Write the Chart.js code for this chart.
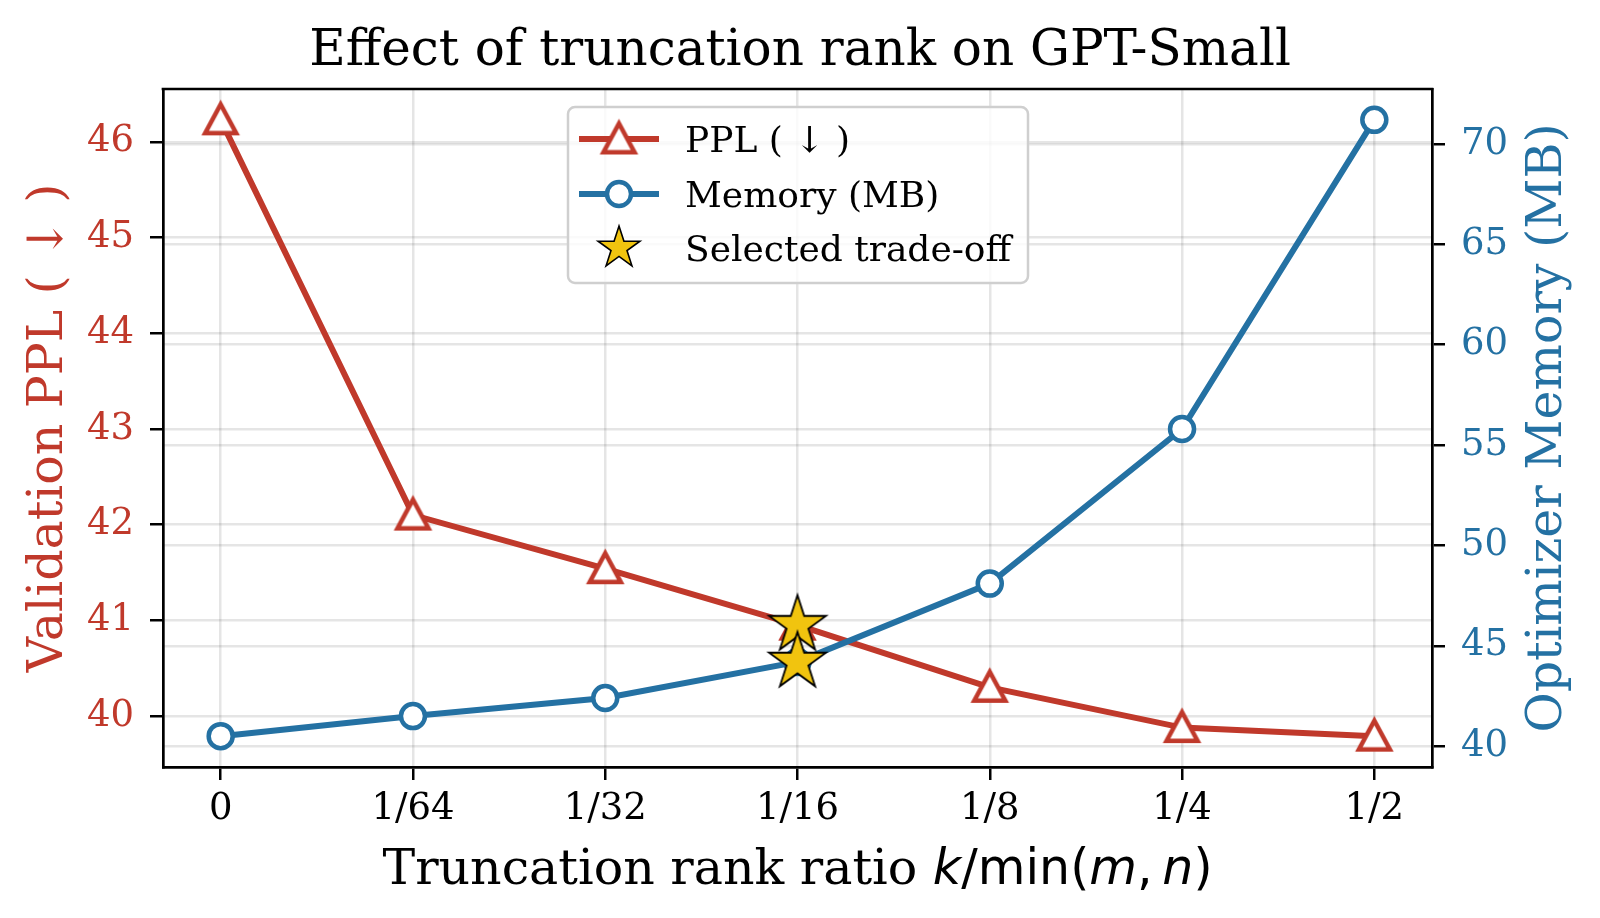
<!DOCTYPE html>
<html>
<head>
<meta charset="utf-8">
<title>Effect of truncation rank on GPT-Small</title>
<script src="https://cdn.jsdelivr.net/npm/chart.js@4.4.1/dist/chart.umd.min.js"></script>
<style>
  html, body { margin: 0; padding: 0; background: #fff; }
  #wrap { width: 1600px; height: 918px; }
</style>
</head>
<body>
<div id="wrap"><canvas id="chart" width="1600" height="918"></canvas></div>
<script>
// --- Data ---
const rankLabels = ['0', '1/64', '1/32', '1/16', '1/8', '1/4', '1/2'];
const pplValues = [46.23, 42.10, 41.54, 40.95, 40.30, 39.88, 39.79];
const memoryValues = [40.5, 41.5, 42.4, 44.2, 48.1, 55.8, 71.2];
const selectedIndex = 3;
const pplTicks = [40, 41, 42, 43, 44, 45, 46];
const memoryTicks = [40, 45, 50, 55, 60, 65, 70];

// --- Style ---
const RED = '#c0392b';
const BLUE = '#2471a3';
const GOLD = '#f1c40f';
const SERIF = '"DejaVu Serif", "Liberation Serif", serif';
const SANS = '"DejaVu Sans", sans-serif';
const GRID = 'rgba(0, 0, 0, 0.1)';
const LABEL_SIZE = 49;

// matplotlib-like 5% margins around the data
function paddedRange(values) {
    const lo = Math.min(...values), hi = Math.max(...values);
    const pad = (hi - lo) * 0.05;
    return { min: lo - pad, max: hi + pad };
}
const pplRange = paddedRange(pplValues);
const memRange = paddedRange(memoryValues);

// filled star marker (matplotlib '*')
function makeStar(outer, lw) {
    const inner = outer * 0.381966;
    const size = Math.ceil(2 * outer + 2 * lw + 4);
    const c = document.createElement('canvas');
    c.width = c.height = size;
    const g = c.getContext('2d');
    const cx = size / 2, cy = size / 2;
    g.beginPath();
    for (let k = 0; k < 10; k++) {
        const r = k % 2 ? inner : outer;
        const a = -Math.PI / 2 + k * Math.PI / 5;
        const px = cx + r * Math.cos(a), py = cy + r * Math.sin(a);
        if (k === 0) g.moveTo(px, py); else g.lineTo(px, py);
    }
    g.closePath();
    g.fillStyle = GOLD;
    g.fill();
    g.lineWidth = lw;
    g.strokeStyle = '#000';
    g.stroke();
    return c;
}

// hollow triangle centred on its bounding box (matplotlib '^')
function makeTriangle(half, lw, color) {
    const size = Math.ceil(2 * half + 3 * lw + 4);
    const c = document.createElement('canvas');
    c.width = c.height = size;
    const g = c.getContext('2d');
    const cx = size / 2, cy = size / 2;
    g.beginPath();
    g.moveTo(cx, cy - half);
    g.lineTo(cx + half, cy + half * 0.85);
    g.lineTo(cx - half, cy + half * 0.85);
    g.closePath();
    g.fillStyle = '#fff';
    g.fill();
    g.lineWidth = lw;
    g.lineJoin = 'miter';
    g.strokeStyle = color;
    g.stroke();
    return c;
}
const plotStar = makeStar(30, 1.8);
const legendStar = makeStar(22, 1.6);
const triangleMark = makeTriangle(15.5, 4.5, RED);

function axisGrid() {
    return { color: GRID, lineWidth: 2.5, tickColor: '#000', tickWidth: 2.5, tickLength: 13 };
}
const axisBorder = { display: true, color: '#000', width: 2.7 };

// --- Extra drawing: top spine, legend, axis titles ---
const decorations = {
    id: 'decorations',
    afterDraw(chart) {
        const { ctx, chartArea: a } = chart;
        ctx.save();

        // top spine
        ctx.strokeStyle = '#000';
        ctx.lineWidth = 2.7;
        ctx.beginPath();
        ctx.moveTo(a.left - 1.35, a.top);
        ctx.lineTo(a.right + 1.35, a.top);
        ctx.stroke();

        // legend box
        const bx = 568, by = 107, bw = 460, bh = 176;
        ctx.beginPath();
        ctx.roundRect(bx, by, bw, bh, 7);
        ctx.fillStyle = 'rgba(255,255,255,0.8)';
        ctx.fill();
        ctx.strokeStyle = '#cfcfcf';
        ctx.lineWidth = 2.5;
        ctx.stroke();

        const rows = [
            { text: 'PPL ( ↓ )', color: RED, style: triangleMark, r: 18, y: 139 },
            { text: 'Memory (MB)', color: BLUE, style: 'circle', r: 12, y: 194 },
            { text: 'Selected trade-off', color: null, style: legendStar, r: 22, y: 248 }
        ];
        rows.forEach(row => {
            if (row.color) {
                ctx.strokeStyle = row.color;
                ctx.lineWidth = 6;
                ctx.beginPath();
                ctx.moveTo(579, row.y);
                ctx.lineTo(659, row.y);
                ctx.stroke();
                ctx.fillStyle = '#fff';
                ctx.lineWidth = 4.5;
            }
            Chart.helpers.drawPoint(ctx, { pointStyle: row.style, radius: row.r, rotation: 0, borderWidth: 4.5 }, 619, row.y);
            ctx.fillStyle = '#000';
            ctx.font = '36px ' + SERIF;
            ctx.textAlign = 'left';
            ctx.textBaseline = 'alphabetic';
            ctx.fillText(row.text, 685, row.y + 13);
        });

        const cy = (a.top + a.bottom) / 2;
        ctx.font = LABEL_SIZE + 'px ' + SERIF;
        ctx.textAlign = 'center';
        ctx.textBaseline = 'alphabetic';

        // left axis title
        ctx.save();
        ctx.translate(62, cy);
        ctx.rotate(-Math.PI / 2);
        ctx.fillStyle = RED;
        ctx.fillText('Validation PPL ( ↓ )', 0, 0);
        ctx.restore();

        // right axis title
        ctx.save();
        ctx.translate(1561, cy);
        ctx.rotate(-Math.PI / 2);
        ctx.fillStyle = BLUE;
        ctx.fillText('Optimizer Memory (MB)', 0, 0);
        ctx.restore();

        // x axis title with math-style k/min(m, n)
        const serifFont = LABEL_SIZE + 'px ' + SERIF;
        const mathFont = LABEL_SIZE + 'px ' + SANS;
        const mathItalic = 'italic ' + LABEL_SIZE + 'px ' + SANS;
        const parts = [
            ['Truncation rank ratio ', serifFont],
            ['k', mathItalic],
            ['/min(', mathFont],
            ['m', mathItalic],
            [',\u2009', mathFont],
            ['n', mathItalic],
            [')', mathFont]
        ];
        let total = 0;
        parts.forEach(p => { ctx.font = p[1]; total += ctx.measureText(p[0]).width; });
        let x = (a.left + a.right) / 2 - total / 2;
        ctx.textAlign = 'left';
        ctx.fillStyle = '#000';
        parts.forEach(p => {
            ctx.font = p[1];
            ctx.fillText(p[0], x, 884);
            x += ctx.measureText(p[0]).width;
        });

        ctx.restore();
    }
};

// --- Chart ---
const ctx = document.getElementById('chart').getContext('2d');
new Chart(ctx, {
    type: 'line',
    data: {
        datasets: [
            {
                label: 'PPL ( ↓ )',
                data: pplValues.map((v, i) => ({ x: i, y: v })),
                yAxisID: 'y',
                borderColor: RED,
                borderWidth: 6,
                pointStyle: triangleMark,
                pointRadius: 18,
                tension: 0,
                order: 3
            },
            {
                label: 'Memory (MB)',
                data: memoryValues.map((v, i) => ({ x: i, y: v })),
                yAxisID: 'y2',
                borderColor: BLUE,
                borderWidth: 6,
                pointStyle: 'circle',
                pointRadius: 12,
                pointBorderWidth: 4.5,
                pointBackgroundColor: '#fff',
                pointBorderColor: BLUE,
                tension: 0,
                order: 2
            },
            {
                label: 'Selected trade-off',
                data: [{ x: selectedIndex, y: pplValues[selectedIndex] }],
                yAxisID: 'y',
                showLine: false,
                pointStyle: plotStar,
                order: 1
            },
            {
                label: 'Selected trade-off (memory)',
                data: [{ x: selectedIndex, y: memoryValues[selectedIndex] }],
                yAxisID: 'y2',
                showLine: false,
                pointStyle: plotStar,
                order: 0
            }
        ]
    },
    options: {
        responsive: false,
        animation: false,
        layout: { padding: 0 },
        plugins: {
            legend: { display: false },
            tooltip: { enabled: false },
            title: {
                display: true,
                text: 'Effect of truncation rank on GPT-Small',
                color: '#000',
                font: { family: SERIF, size: 50, weight: 'normal', lineHeight: 1.2 },
                padding: { top: 21.6, bottom: 7.4 }
            }
        },
        scales: {
            x: {
                type: 'linear',
                min: -0.3,
                max: rankLabels.length - 0.7,
                afterBuildTicks: s => { s.ticks = rankLabels.map((_, i) => ({ value: i })); },
                afterFit: s => { s.height = 151; },
                ticks: {
                    callback: v => rankLabels[Math.round(v)],
                    color: '#000',
                    font: { family: SERIF, size: 37 },
                    padding: 7,
                    maxRotation: 0,
                    autoSkip: false
                },
                grid: axisGrid(),
                border: axisBorder
            },
            y: {
                position: 'left',
                min: pplRange.min,
                max: pplRange.max,
                afterBuildTicks: s => { s.ticks = pplTicks.map(v => ({ value: v })); },
                afterFit: s => { s.width = 163; },
                ticks: { color: RED, font: { family: SERIF, size: 37 }, padding: 16 },
                grid: axisGrid(),
                border: axisBorder
            },
            y2: {
                position: 'right',
                min: memRange.min,
                max: memRange.max,
                afterBuildTicks: s => { s.ticks = memoryTicks.map(v => ({ value: v })); },
                afterFit: s => { s.width = 168; },
                ticks: { color: BLUE, font: { family: SERIF, size: 37 }, padding: 16 },
                grid: axisGrid(),
                border: axisBorder
            }
        }
    },
    plugins: [decorations]
});
</script>
</body>
</html>
